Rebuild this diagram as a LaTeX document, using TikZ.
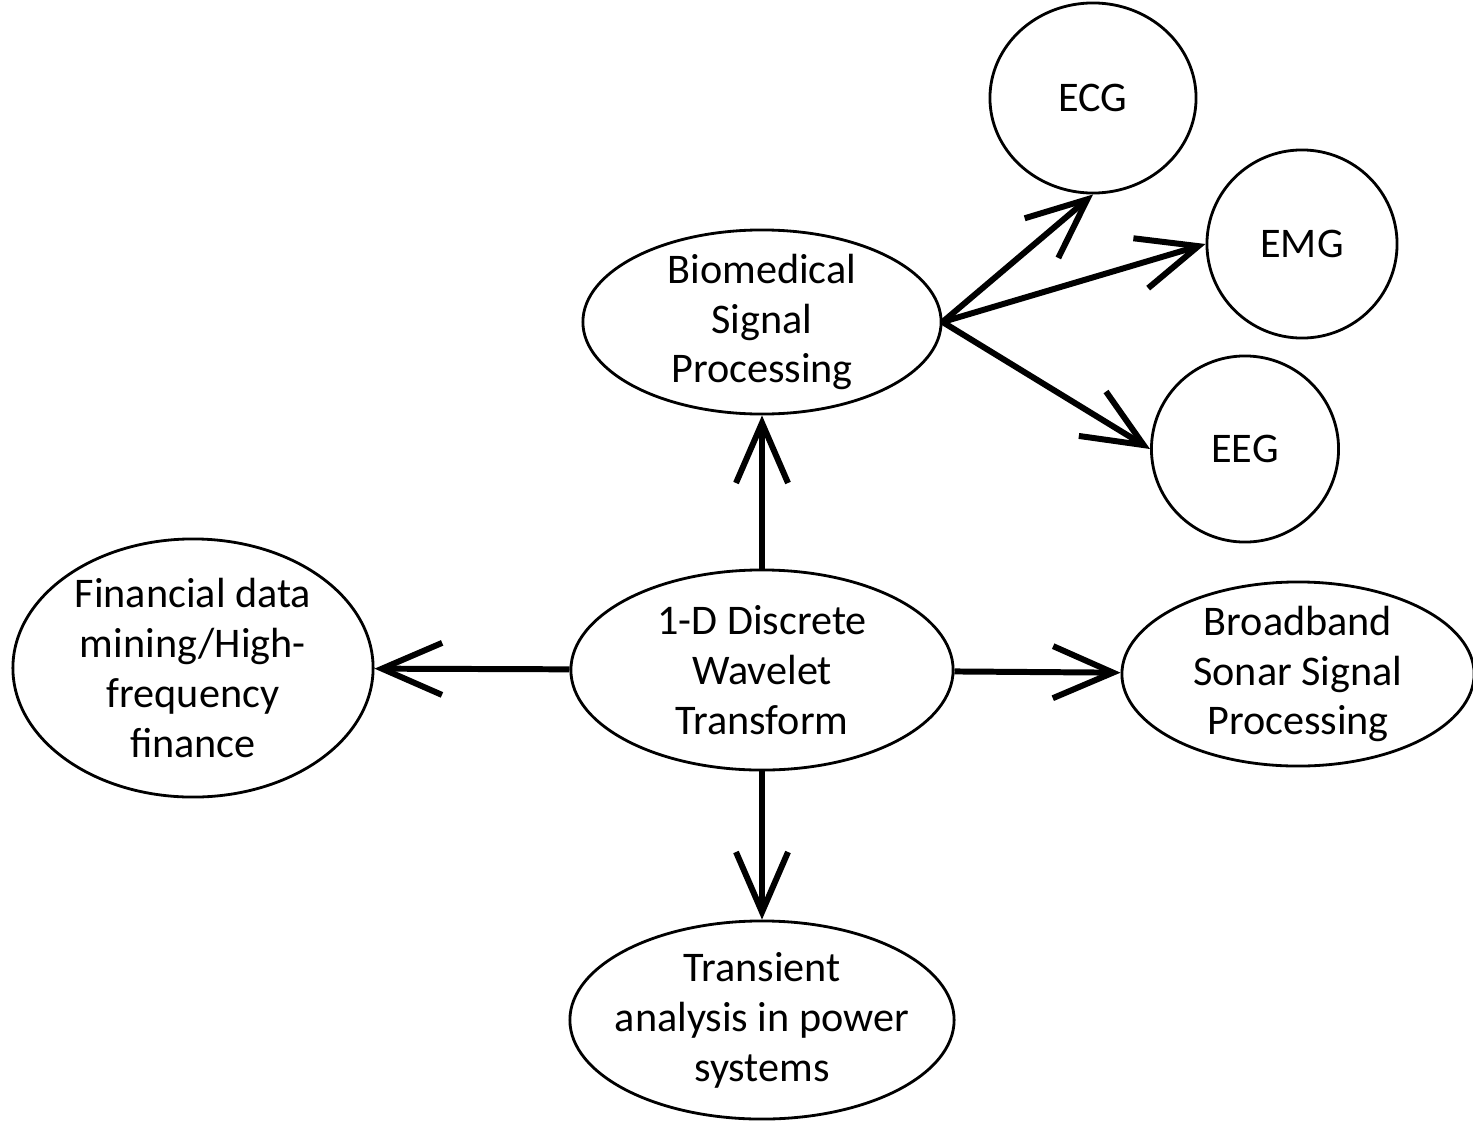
\documentclass[tikz,border=0pt]{standalone}
\usepackage{fontspec}
\setmainfont{Carlito}
\usepackage{tikz}
\usetikzlibrary{shapes.geometric}
\usetikzlibrary{arrows.meta}

\begin{document}
\begin{tikzpicture}[x=0.01cm, y=-0.01cm,
    bubble/.style={shape=ellipse,draw=black,line width=0.8pt,inner sep=-0.3cm,align=center,
                   font=\fontsize{12}{14.2}\selectfont},
    sig/.style={shape=ellipse,draw=black,line width=0.8pt,inner sep=0pt,
                font=\fontsize{12}{14.2}\selectfont}]
    \useasboundingbox (0,0) rectangle (1473,1124);
    \node[bubble,minimum width=3.82cm,minimum height=2.0cm] (dwt) at (762,670) {1-D Discrete\\Wavelet\\Transform};
    \node[bubble,minimum width=3.58cm,minimum height=1.84cm] (bio) at (762,322) {Biomedical\\Signal\\Processing};
    \node[bubble,minimum width=3.6cm,minimum height=2.58cm] (fin) at (193,668) {Financial data\\mining/High-\\frequency\\finance};
    \node[bubble,minimum width=3.52cm,minimum height=1.84cm] (sonar) at (1298,674) {Broadband\\Sonar Signal\\Processing};
    \node[bubble,minimum width=3.84cm,minimum height=1.98cm] (power) at (762,1020) {Transient\\analysis in power\\systems};
    \node[sig,minimum width=2.06cm,minimum height=1.9cm] (ecg) at (1093,98) {ECG};
    \node[sig,minimum width=1.9cm,minimum height=1.88cm] (emg) at (1302,244) {EMG};
    \node[sig,minimum width=1.87cm,minimum height=1.86cm] (eeg) at (1245,449) {EEG};

    \path[line width=1.7pt,-{Straight Barb[length=0.6cm,width=0.52cm,line width=1.7pt]}]
    (dwt) edge (bio)
    (dwt) edge (fin)
    (dwt) edge (sonar)
    (dwt) edge (power)
    (bio.east) edge (ecg.south)
    (bio.east) edge (emg.west)
    (bio.east) edge (eeg.west);
\end{tikzpicture}
\end{document}
